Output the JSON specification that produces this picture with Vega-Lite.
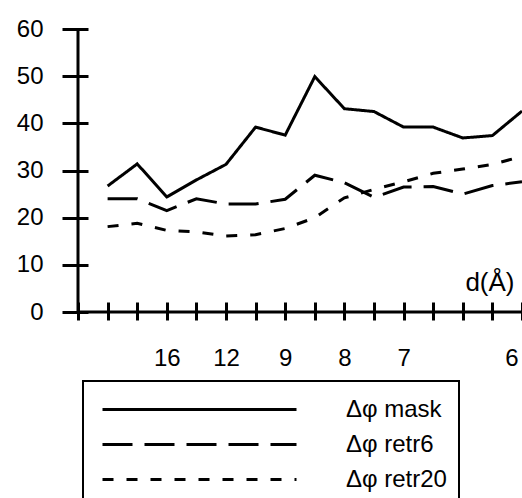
{
  "$schema": "https://vega.github.io/schema/vega-lite/v6.json",
  "width": 444,
  "height": 283,
  "autosize": {"type": "none"},
  "padding": {"left": 78, "top": 29, "right": 0, "bottom": 186},
  "background": "white",
  "config": {
    "view": {"stroke": null},
    "font": "Liberation Sans",
    "axisX": {
      "labelExpr": "datum.value == 3 ? '16' : datum.value == 5 ? '12' : datum.value == 7 ? '9' : datum.value == 9 ? '8' : datum.value == 11 ? '7' : datum.value == 15 ? '6' : ''",
      "offset": -10,
      "tickSize": 18,
      "tickWidth": 3,
      "tickColor": "black",
      "domain": false,
      "grid": false,
      "labelPadding": 26,
      "labelFontSize": 24,
      "labelFont": "Liberation Sans",
      "labelColor": "black",
      "titleX": 436,
      "titleY": -20,
      "titleAlign": "right",
      "titleBaseline": "middle",
      "titleFontSize": 26,
      "titleFont": "Liberation Sans",
      "titleFontWeight": "normal",
      "titleColor": "black"
    },
    "axisY": {
      "offset": -10,
      "tickSize": 26,
      "tickWidth": 3,
      "tickColor": "black",
      "domain": false,
      "grid": false,
      "labelPadding": 19,
      "labelFontSize": 24,
      "labelFont": "Liberation Sans",
      "labelColor": "black"
    }
  },
  "layer": [
    {
      "data": {
        "values": [
          {"s": "mask", "bin": 1, "y": 26.7},
          {"s": "mask", "bin": 2, "y": 31.4},
          {"s": "mask", "bin": 3, "y": 24.4},
          {"s": "mask", "bin": 4, "y": 28.0},
          {"s": "mask", "bin": 5, "y": 31.3},
          {"s": "mask", "bin": 6, "y": 39.2},
          {"s": "mask", "bin": 7, "y": 37.5},
          {"s": "mask", "bin": 8, "y": 49.9},
          {"s": "mask", "bin": 9, "y": 43.1},
          {"s": "mask", "bin": 10, "y": 42.5},
          {"s": "mask", "bin": 11, "y": 39.2},
          {"s": "mask", "bin": 12, "y": 39.2},
          {"s": "mask", "bin": 13, "y": 36.9},
          {"s": "mask", "bin": 14, "y": 37.4},
          {"s": "mask", "bin": 15, "y": 42.6},
          {"s": "retr6", "bin": 1, "y": 24.0},
          {"s": "retr6", "bin": 2, "y": 24.0},
          {"s": "retr6", "bin": 3, "y": 21.5},
          {"s": "retr6", "bin": 4, "y": 24.0},
          {"s": "retr6", "bin": 5, "y": 22.9},
          {"s": "retr6", "bin": 6, "y": 22.9},
          {"s": "retr6", "bin": 7, "y": 23.9},
          {"s": "retr6", "bin": 8, "y": 29.0},
          {"s": "retr6", "bin": 9, "y": 27.4},
          {"s": "retr6", "bin": 10, "y": 24.3},
          {"s": "retr6", "bin": 11, "y": 26.5},
          {"s": "retr6", "bin": 12, "y": 26.6},
          {"s": "retr6", "bin": 13, "y": 25.0},
          {"s": "retr6", "bin": 14, "y": 26.8},
          {"s": "retr6", "bin": 15, "y": 27.6},
          {"s": "retr20", "bin": 1, "y": 18.1},
          {"s": "retr20", "bin": 2, "y": 18.8},
          {"s": "retr20", "bin": 3, "y": 17.3},
          {"s": "retr20", "bin": 4, "y": 17.0},
          {"s": "retr20", "bin": 5, "y": 16.1},
          {"s": "retr20", "bin": 6, "y": 16.4},
          {"s": "retr20", "bin": 7, "y": 17.7},
          {"s": "retr20", "bin": 8, "y": 20.0},
          {"s": "retr20", "bin": 9, "y": 24.2},
          {"s": "retr20", "bin": 10, "y": 26.0},
          {"s": "retr20", "bin": 11, "y": 27.6},
          {"s": "retr20", "bin": 12, "y": 29.4},
          {"s": "retr20", "bin": 13, "y": 30.3},
          {"s": "retr20", "bin": 14, "y": 31.3},
          {"s": "retr20", "bin": 15, "y": 33.0}
        ]
      },
      "mark": {"type": "line", "color": "black", "strokeWidth": 3, "strokeCap": "butt", "strokeJoin": "miter"},
      "encoding": {
        "x": {
          "field": "bin",
          "type": "quantitative",
          "scale": {"domain": [0, 15], "nice": false, "zero": false},
          "axis": {"title": "d(Å)", "values": [0, 1, 2, 3, 4, 5, 6, 7, 8, 9, 10, 11, 12, 13, 14, 15], "labelOverlap": false, "labelBound": false, "labelFlush": true, "labelFlushOffset": -4}
        },
        "y": {
          "field": "y",
          "type": "quantitative",
          "scale": {"domain": [0, 60], "nice": false},
          "axis": {"title": null, "values": [0, 10, 20, 30, 40, 50, 60]}
        },
        "strokeDash": {
          "field": "s",
          "type": "nominal",
          "scale": {"domain": ["mask", "retr6", "retr20"], "range": [[1, 0], [30, 12], [11, 13]]},
          "legend": {
            "orient": "none",
            "legendX": 5,
            "legendY": 352,
            "title": null,
            "symbolType": "stroke",
            "symbolSize": 37636,
            "symbolStrokeWidth": 3,
            "symbolStrokeColor": "black",
            "symbolOffset": 6,
            "clipHeight": 33,
            "rowPadding": 2,
            "padding": 12,
            "labelOffset": 48,
            "labelFontSize": 24,
            "labelFont": "Liberation Sans",
            "labelColor": "black",
            "labelLimit": 300,
            "labelExpr": "'Δφ ' + datum.label",
            "strokeColor": "black",
            "encode": {"legend": {"update": {"strokeWidth": {"value": 2}}}}
          }
        }
      }
    },
    {
      "data": {"values": [{}]},
      "mark": {"type": "rule", "color": "black", "strokeWidth": 3},
      "encoding": {"y": {"datum": 0, "type": "quantitative", "axis": {"title": null, "values": [0, 10, 20, 30, 40, 50, 60]}}}
    },
    {
      "data": {"values": [{}]},
      "mark": {"type": "rule", "color": "black", "strokeWidth": 3},
      "encoding": {"x": {"datum": 0, "type": "quantitative", "axis": {"title": "d(Å)", "values": [0, 1, 2, 3, 4, 5, 6, 7, 8, 9, 10, 11, 12, 13, 14, 15], "labelOverlap": false, "labelBound": false, "labelFlush": true, "labelFlushOffset": -4}}}
    }
  ]
}
